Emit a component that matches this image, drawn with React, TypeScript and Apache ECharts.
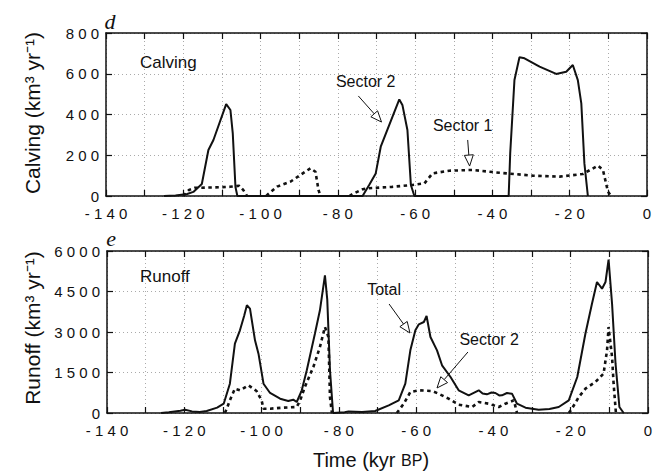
import React, { useEffect, useRef } from "react";
import * as echarts from "echarts";

// ---- Data (kyr BP, km^3/yr) ----
const calvingSector2: (number | null)[][] = [
  [-125, 0], [-122, 3], [-119, 10], [-117.4, 20], [-115.2, 59], [-113.5, 226], [-112.2, 275],
  [-108.9, 451], [-107.8, 422], [-107.2, 309], [-106.5, 44], [-106, 0],
  [-73.6, 0], [-71.9, 54], [-70.2, 111], [-68.9, 242], [-64.1, 474], [-63.3, 447], [-62, 324],
  [-61.1, 54], [-60.2, 0],
  [-35.8, 0], [-35.4, 209], [-34.3, 569], [-33, 681], [-31.7, 676], [-27.8, 635], [-23.5, 599],
  [-20.9, 610], [-19.2, 643], [-17.9, 569], [-17, 455], [-16.2, 160], [-15.3, 0],
];

const calvingSector1: (number | null)[][] = [
  [-120, 0], [-118.5, 30], [-117, 40], [-112, 42], [-108, 45], [-105.5, 50], [-104.5, 30], [-103.5, 0],
  [-101, null],
  [-98.5, 0], [-98, 10], [-95.7, 46], [-92.3, 70], [-89.7, 103], [-87.1, 136], [-85.8, 119],
  [-85, 29], [-84.5, 0],
  [-80, null],
  [-77, 0], [-76.2, 10], [-73.6, 33], [-71.9, 38], [-66, 45], [-60.7, 54], [-57.6, 62],
  [-55.5, 111], [-51.2, 124], [-45.1, 128], [-38.2, 114], [-29.6, 100], [-22.6, 95],
  [-16.6, 108], [-12.7, 149], [-11.4, 128], [-10.1, 21], [-9.3, 0],
];

const runoffTotal: (number | null)[][] = [
  [-126, 0], [-124, 30], [-121, 80], [-119.8, 120], [-118, 60], [-116, 40], [-114.2, 74],
  [-111.5, 200], [-109.8, 345], [-108.2, 1085], [-106.9, 2567], [-105.6, 3063], [-104.5, 3600],
  [-103.8, 3989], [-103, 3863], [-101.7, 2693], [-100.8, 2196], [-99.5, 1085], [-97.8, 741],
  [-95.2, 530], [-93.1, 444], [-91.8, 493], [-90.9, 407], [-89.6, 840], [-88.3, 1580],
  [-86.2, 2937], [-84.9, 3804], [-83.6, 5100], [-83, 4200], [-82.3, 1593], [-81.5, 0],
  [-78.5, 30], [-77.5, 60], [-74, 40], [-70.6, 74], [-67.1, 284], [-64.5, 470], [-62.8, 1085],
  [-61.5, 2320], [-60.2, 3063], [-59.3, 3285], [-58, 3370], [-57.3, 3593], [-56.3, 2815],
  [-54.6, 2320], [-53.3, 1767], [-51.1, 1333], [-49, 840], [-46.4, 655], [-43.8, 840],
  [-42.8, 720], [-41.7, 692], [-40.5, 760], [-39.5, 741], [-38.5, 650], [-37.8, 655],
  [-36.5, 740], [-35.2, 716], [-33.9, 345], [-31.7, 198], [-28.3, 124], [-25.5, 150],
  [-23.1, 222], [-20.5, 470], [-18.3, 1333], [-16.2, 2937], [-14.5, 4048], [-13.2, 4852],
  [-11.9, 4604], [-11, 4852], [-10.2, 5678], [-9.3, 4048], [-8.4, 1826], [-7.4, 222], [-6.3, 0],
];

const runoffSector2: (number | null)[][] = [
  [-109.5, 0], [-109, 160], [-108.2, 470], [-106.9, 900], [-105.6, 840], [-103.4, 1025],
  [-101.3, 815], [-100, 470], [-99.5, 160], [-97.8, 160], [-94.4, 198], [-90.9, 222],
  [-90, 470], [-88.8, 963], [-86.6, 1704], [-84.9, 2444], [-83.6, 3185], [-82.7, 2815],
  [-82.3, 593], [-81.8, 0],
  [-75, null],
  [-65, 0], [-63.2, 345], [-61.5, 778], [-59.3, 840], [-55.9, 815], [-54.2, 716], [-51.6, 530],
  [-49, 308], [-45.5, 222], [-43.8, 407], [-41.2, 345], [-38.6, 222], [-36.9, 345],
  [-34.7, 470], [-33.9, 0],
  [-25, null],
  [-20.5, 0], [-19.7, 160], [-17.9, 593], [-16.2, 900], [-13.6, 1148], [-11.5, 1457],
  [-10.6, 2320], [-10.2, 3185], [-9.3, 2074], [-8.9, 1085], [-8.3, 0],
];

const xTicks = { min: -140, max: 0, interval: 10 };
const calvingTicks = { min: 0, max: 800, interval: 200 };
const runoffTicks = { min: 0, max: 6000, interval: 1500 };

// annotations: panel, label, label position, arrow from, arrow to (data coords)
const annotations = [
  { panel: 0, label: "Sector 2", at: [-72.8, 560], from: [-74.7, 491], to: [-68.7, 363] },
  { panel: 0, label: "Sector 1", at: [-47.7, 344], from: [-46.4, 275], to: [-45.9, 147] },
  { panel: 1, label: "Total", at: [-68.3, 4556], from: [-67, 4037], to: [-61.6, 2963] },
  { panel: 1, label: "Sector 2", at: [-41.1, 2704], from: [-46.6, 2259], to: [-54.6, 926] },
];

const FONT = "'Liberation Sans', Arial, Helvetica, sans-serif";
const spaced = (s: string) => s.split("").join(" ");

function makeX(gridIndex: number, position: "bottom" | "top", showLabels: boolean) {
  return {
    type: "value",
    gridIndex,
    position,
    ...xTicks,
    axisLine: { show: true, onZero: false, lineStyle: { color: "#111", width: 1.5 } },
    axisTick: { show: true, inside: true, length: 6, lineStyle: { color: "#111", width: 1.2 } },
    axisLabel: showLabels
      ? {
          show: true,
          margin: 10,
          color: "#111",
          fontFamily: FONT,
          fontSize: 15,
          formatter: (v: number) => (v % 20 === 0 ? spaced(String(v)) : ""),
        }
      : { show: false },
    splitLine: showLabels
      ? { show: true, lineStyle: { color: "#aaa", width: 1, type: [1, 3] } }
      : { show: false },
  };
}

function makeY(gridIndex: number, position: "left" | "right", ticks: any, showLabels: boolean) {
  return {
    type: "value",
    gridIndex,
    position,
    ...ticks,
    axisLine: { show: true, onZero: false, lineStyle: { color: "#111", width: 1.5 } },
    axisTick: { show: true, inside: true, length: 6, lineStyle: { color: "#111", width: 1.2 } },
    axisLabel: showLabels
      ? {
          show: true,
          margin: 7,
          color: "#111",
          fontFamily: FONT,
          fontSize: 15,
          formatter: (v: number) => spaced(String(v)),
        }
      : { show: false },
    splitLine: showLabels
      ? { show: true, lineStyle: { color: "#aaa", width: 1, type: [1, 3] } }
      : { show: false },
  };
}

function solid(name: string, data: any, axis: number) {
  return {
    type: "line",
    name,
    data,
    xAxisIndex: axis,
    yAxisIndex: axis,
    showSymbol: false,
    connectNulls: false,
    lineStyle: { color: "#111", width: 2 },
  };
}
function dashed(name: string, data: any, axis: number) {
  return {
    type: "line",
    name,
    data,
    xAxisIndex: axis,
    yAxisIndex: axis,
    showSymbol: false,
    connectNulls: false,
    lineStyle: { color: "#111", width: 2.6, type: [3.5, 3.5] },
  };
}

export default function App() {
  const ref = useRef<HTMLDivElement>(null);
  useEffect(() => {
    if (!ref.current) return;
    const chart = echarts.init(ref.current, null, { renderer: "svg" });
    const option: any = {
      animation: false,
      backgroundColor: "#fff",
      grid: [
        { left: 106, top: 33, width: 541, height: 163 },
        { left: 107, top: 251, width: 541, height: 162 },
      ],
      xAxis: [makeX(0, "bottom", true), makeX(0, "top", false), makeX(1, "bottom", true), makeX(1, "top", false)],
      yAxis: [
        makeY(0, "left", calvingTicks, true),
        makeY(0, "right", calvingTicks, false),
        makeY(1, "left", runoffTicks, true),
        makeY(1, "right", runoffTicks, false),
      ],
      series: [
        solid("Calving Sector 2", calvingSector2, 0),
        dashed("Calving Sector 1", calvingSector1, 0),
        solid("Runoff Total", runoffTotal, 2),
        dashed("Runoff Sector 2", runoffSector2, 2),
      ],
    };
    chart.setOption(option);

    const graphics: any[] = [
      {
        type: "text",
        x: 32,
        y: 113,
        rotation: Math.PI / 2,
        style: {
          text: "Calving (km³ yr⁻¹)",
          font: `21px ${FONT}`,
          fill: "#111",
          align: "center",
          verticalAlign: "middle",
        },
      },
      {
        type: "text",
        x: 32,
        y: 328,
        rotation: Math.PI / 2,
        style: {
          text: "Runoff (km³ yr⁻¹)",
          font: `21px ${FONT}`,
          fill: "#111",
          align: "center",
          verticalAlign: "middle",
        },
      },
      {
        type: "text",
        x: 110,
        y: 21,
        style: {
          text: "d",
          font: `italic 22px 'Liberation Serif', 'Times New Roman', serif`,
          fill: "#111",
          align: "center",
          verticalAlign: "middle",
        },
      },
      {
        type: "text",
        x: 111,
        y: 238,
        style: {
          text: "e",
          font: `italic 22px 'Liberation Serif', 'Times New Roman', serif`,
          fill: "#111",
          align: "center",
          verticalAlign: "middle",
        },
      },
      {
        type: "text",
        x: 140,
        y: 62,
        style: { text: "Calving", font: `17px ${FONT}`, fill: "#111", align: "left", verticalAlign: "middle" },
      },
      {
        type: "text",
        x: 140,
        y: 276,
        style: { text: "Runoff", font: `17px ${FONT}`, fill: "#111", align: "left", verticalAlign: "middle" },
      },
      {
        type: "text",
        x: 371,
        y: 460,
        style: {
          text: "Time (kyr {sc|BP})",
          font: `20px ${FONT}`,
          fill: "#111",
          align: "center",
          verticalAlign: "middle",
          rich: { sc: { fontSize: 16, fontFamily: FONT, fill: "#111" } },
        },
      },
    ];

    annotations.forEach((a) => {
      const finder = { xAxisIndex: a.panel * 2, yAxisIndex: a.panel * 2 };
      const t = chart.convertToPixel(finder, a.at) as number[];
      const p1 = chart.convertToPixel(finder, a.from) as number[];
      const p2 = chart.convertToPixel(finder, a.to) as number[];
      const dx = p2[0] - p1[0];
      const dy = p2[1] - p1[1];
      const len = Math.sqrt(dx * dx + dy * dy);
      const ux = dx / len;
      const uy = dy / len;
      const L = 11;
      const W = 4.5;
      const bx = p2[0] - ux * L;
      const by = p2[1] - uy * L;
      graphics.push({
        type: "text",
        x: t[0],
        y: t[1],
        style: { text: a.label, font: `16px ${FONT}`, fill: "#111", align: "center", verticalAlign: "middle" },
      });
      graphics.push({
        type: "line",
        shape: { x1: p1[0], y1: p1[1], x2: bx, y2: by },
        style: { stroke: "#111", lineWidth: 1 },
      });
      graphics.push({
        type: "polygon",
        shape: {
          points: [
            [p2[0], p2[1]],
            [bx - uy * W, by + ux * W],
            [bx + uy * W, by - ux * W],
          ],
        },
        style: { fill: "#fff", stroke: "#111", lineWidth: 1 },
      });
    });

    chart.setOption({ graphic: graphics });
    return () => chart.dispose();
  }, []);
  return (
    <div
      ref={ref}
      style={{ position: "fixed", left: 0, top: 0, width: 664, height: 474 }}
    />
  );
}
